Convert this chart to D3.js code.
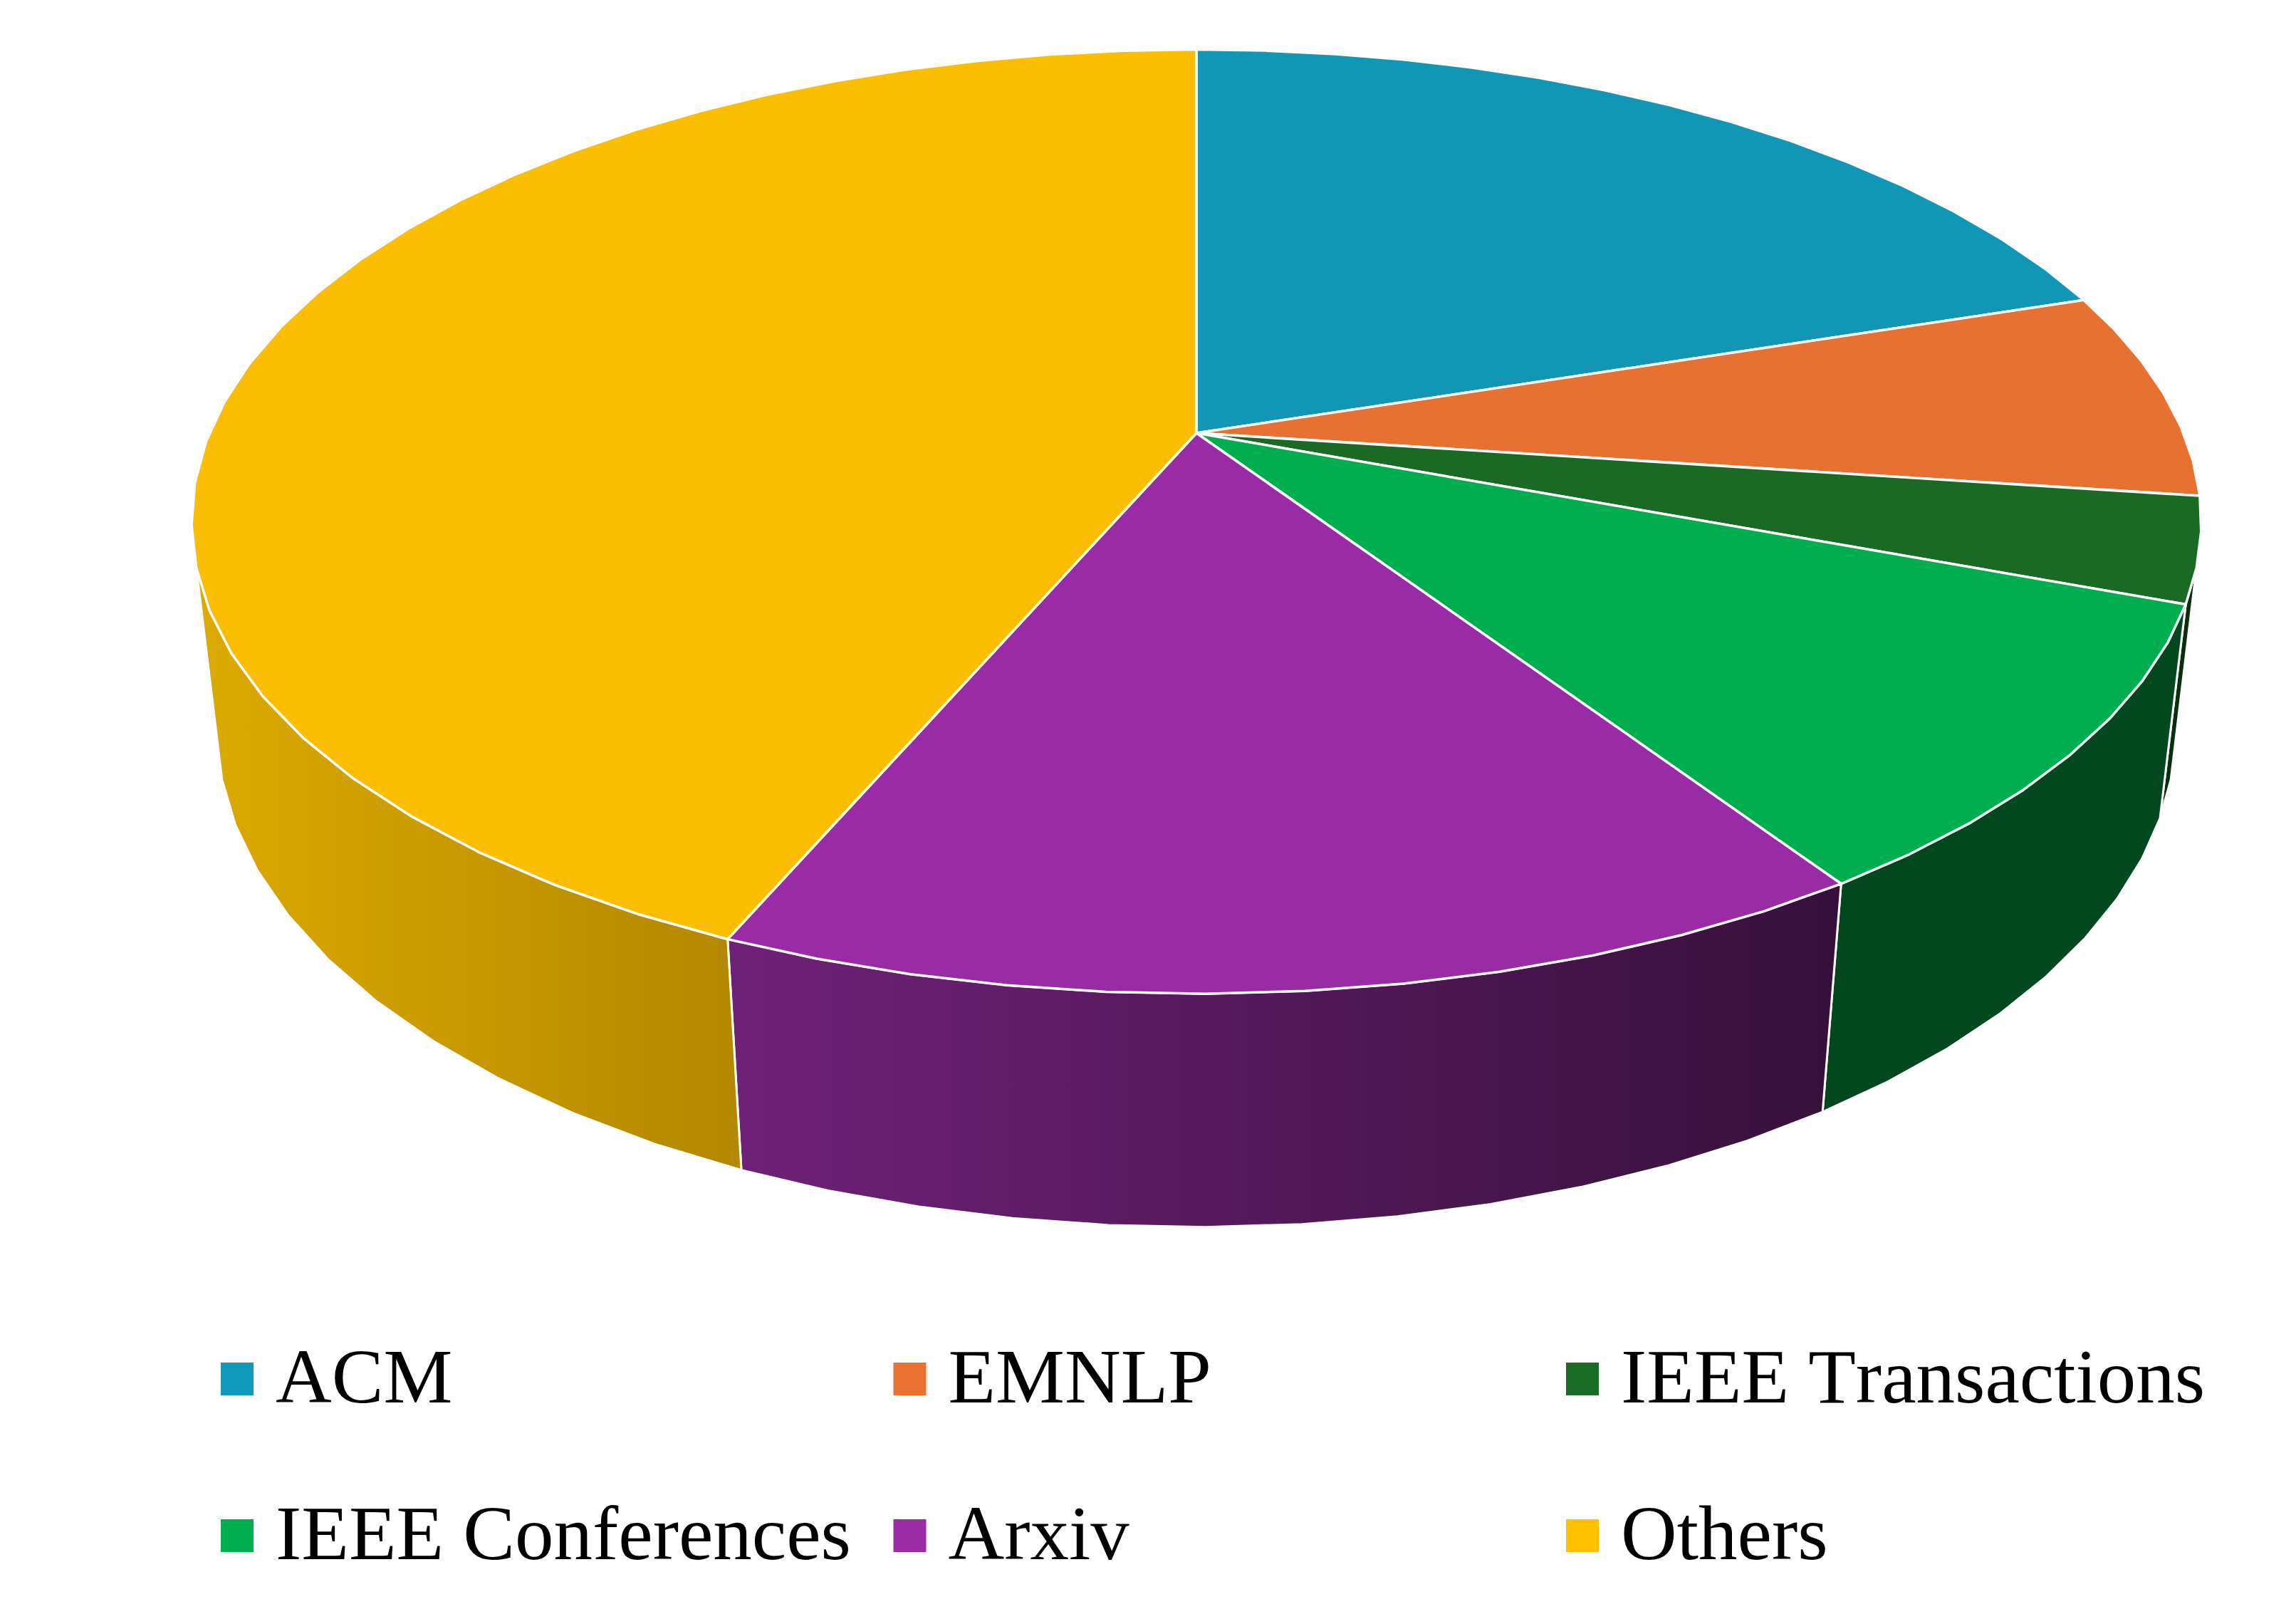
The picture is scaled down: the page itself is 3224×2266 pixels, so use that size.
<!DOCTYPE html>
<html>
<head>
<meta charset="utf-8">
<script src="https://cdn.jsdelivr.net/npm/d3@7"></script>
<style>
  html, body { margin: 0; background: #fff; }
  text { font-family: "Liberation Serif", serif; fill: #000; font-kerning: none; }
</style>
</head>
<body>
<svg id="chart" width="3224" height="2266"></svg>
<script>
const categories = ['ACM', 'EMNLP', 'IEEE Transactions', 'IEEE Conferences', 'Arxiv', 'Others']
const paperCounts = [28, 10, 5, 14, 22, 61]
const rimFacets = [15, 6, 3, 8, 12, 31] // flat facets of the rim in each slice
const legendColors = ['#1099bb', '#ea7333', '#1a6b25', '#00b050', '#9c2ca5', '#ffc000']
const faceColors = ['#1196b6', '#e77132', '#1a6a25', '#00ae4f', '#992ca4', '#fbbe00']
// wall shade at the left and right end of the lit gradient
const wallLeftColors = ['#0b5a6e', '#8a4420', '#0a2f0e', '#03471f', '#6f2178', '#dcaa00']
const wallRightColors = ['#0b5a6e', '#8a4420', '#0a2f0e', '#03471f', '#36103a', '#b48800']

const width = 3224
const height = 2266

// perspective of the tilted disc
const centerX = 1680
const centerY = 608
const radiusX = 1386
const radiusY = 639.5
const depthY = 294
const tilt = 0.1876
const depthShrink = 0.025
const wallFrom = 105 // walls facing the viewer, degrees clockwise from the top
const wallTo = 255

const svg = d3.select('#chart').attr('viewBox', `0 0 ${width} ${height}`)
const defs = svg.append('defs')

const toDegrees = d3.scaleLinear().domain([0, 2 * Math.PI]).range([0, 360])

const pie = d3.pie().sort(null).value((d) => d)
const slices = pie(paperCounts)

/**
 * Project a rim point of the disc to the screen
 *
 * @param {number} angle radians clockwise from the top
 * @param {number} z 0 for the top face, 1 for the bottom rim
 * @returns {number[]} the [x, y] screen position
 */
function project (angle, z) {
  const u = Math.sin(angle)
  const v = -Math.cos(angle)
  const w = 1 - tilt * v + depthShrink * z
  return [centerX + radiusX * u / w, centerY + (radiusY * v + depthY * z) / w]
}

function rimAngles (slice) {
  const count = rimFacets[slice.index]
  return d3.range(count + 1).map((i) => slice.startAngle + (slice.endAngle - slice.startAngle) * i / count)
}

const line = d3.line()

// walls first, the top faces cover whatever sits behind them
const walls = slices
  .map((slice, i) => {
    const angles = rimAngles(slice).filter((a) => toDegrees(a) >= wallFrom && toDegrees(a) <= wallTo)
    return { i, angles }
  })
  .filter((d) => d.angles.length > 1)

walls.forEach((d) => {
  const x0 = project(d.angles[0], 0)[0]
  const x1 = project(d.angles[d.angles.length - 1], 0)[0]
  const gradient = defs.append('linearGradient')
    .attr('id', `wall-${d.i}`)
    .attr('gradientUnits', 'userSpaceOnUse')
    .attr('x1', Math.min(x0, x1))
    .attr('x2', Math.max(x0, x1))
    .attr('y1', 0)
    .attr('y2', 0)
  gradient.append('stop').attr('offset', 0).attr('stop-color', wallLeftColors[d.i])
  gradient.append('stop').attr('offset', 1).attr('stop-color', wallRightColors[d.i])
})

svg.append('g')
  .selectAll('path')
  .data(walls)
  .join('path')
  .attr('d', (d) => {
    const top = d.angles.map((a) => project(a, 0))
    const bottom = d.angles.map((a) => project(a, 1)).reverse()
    return line(top.concat(bottom)) + 'Z'
  })
  .attr('fill', (d) => `url(#wall-${d.i})`)
  .attr('stroke', '#fff')
  .attr('stroke-width', 3)
  .attr('stroke-linejoin', 'round')

svg.append('g')
  .selectAll('path')
  .data(slices)
  .join('path')
  .attr('d', (d) => line([[centerX, centerY]].concat(rimAngles(d).map((a) => project(a, 0)))) + 'Z')
  .attr('fill', (d, i) => faceColors[i])
  .attr('stroke', '#fff')
  .attr('stroke-width', 3.5)
  .attr('stroke-linejoin', 'round')

// legend, three columns and two rows
const legendX = d3.scalePoint().domain([0, 1, 2]).range([310, 2199])
const legendY = d3.scalePoint().domain([0, 1]).range([1913, 2133])
const swatchSize = 46

const legend = svg.append('g')
  .selectAll('g')
  .data(categories)
  .join('g')
  .attr('transform', (d, i) => `translate(${legendX(i % 3)}, ${legendY(Math.floor(i / 3))})`)

legend.append('rect')
  .attr('width', swatchSize)
  .attr('height', swatchSize)
  .attr('fill', (d, i) => legendColors[i])

legend.append('text')
  .attr('x', 77)
  .attr('y', 56)
  .attr('font-size', 109)
  .text((d) => d)
</script>
</body>
</html>
